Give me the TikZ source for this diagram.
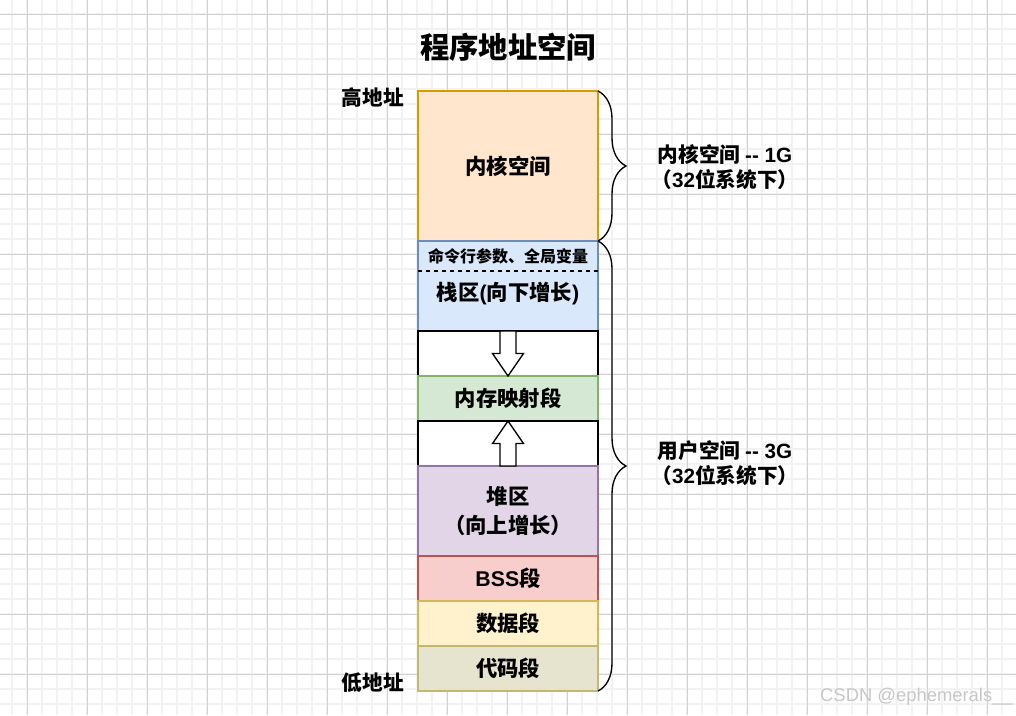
\documentclass[tikz,border=0pt]{standalone}
\usepackage{fontspec}
\setmainfont{Noto Sans CJK SC}
\newfontfamily\wmfont{Liberation Sans}
\newfontfamily\latfont{Liberation Sans}[BoldFont={Liberation Sans Bold}]
\usepackage{xcolor}
\usepackage{tikz}
\usetikzlibrary{positioning,calc,decorations.pathreplacing}
\definecolor{kernFill}{HTML}{FFE6CC}
\definecolor{kernLine}{HTML}{D79B00}
\definecolor{stackFill}{HTML}{DAE8FC}
\definecolor{stackLine}{HTML}{6C8EBF}
\definecolor{mmapFill}{HTML}{D5E8D4}
\definecolor{mmapLine}{HTML}{82B366}
\definecolor{heapFill}{HTML}{E1D5E7}
\definecolor{heapLine}{HTML}{9673A6}
\definecolor{bssFill}{HTML}{F8CECC}
\definecolor{bssLine}{HTML}{B85450}
\definecolor{dataFill}{HTML}{FFF2CC}
\definecolor{dataLine}{HTML}{D6B656}
\definecolor{codeFill}{HTML}{E6E4CF}
\definecolor{codeLine}{HTML}{C4B86E}
\newcommand{\lat}[1]{{\latfont\bfseries #1}}
\tikzset{
  Seg/.style={draw, line width=1pt, minimum width=135pt, inner sep=0pt,
              outer sep=0pt, align=center,
              font=\bfseries\fontsize{16}{20}\selectfont},
  Gap/.style={Seg, fill=white, draw=black, minimum height=33.75pt},
  Blk/.style={draw, line width=1pt, fill=white, line join=miter},
  Brace/.style={decorate, line width=1pt,
                decoration={brace, amplitude=21pt}},
  Side/.style={align=center, inner sep=0pt,
               font=\bfseries\fontsize{15.5}{18.5}\selectfont},
  Addr/.style={anchor=east, inner sep=0pt,
               font=\bfseries\fontsize{15.5}{18}\selectfont},
  Ttl/.style={inner sep=0pt, font=\bfseries\fontsize{22}{26}\selectfont},
  Wm/.style={anchor=east, inner sep=0pt, text=black!22,
             font=\wmfont\fontsize{13.8}{16}\selectfont}
}

\begin{document}
\begin{tikzpicture}[x=0.75pt, y=-0.75pt]
  \useasboundingbox (0,0) rectangle (1016,715);
  \fill[white] (0,0) rectangle (1016,715);
  % grid
  \foreach \gx in {12,27,...,1002} \draw[black!5, line width=1.2pt] (\gx,0) -- (\gx,715);
  \foreach \gy in {14,29,...,704} \draw[black!5, line width=1.2pt] (0,\gy) -- (1016,\gy);
  \foreach \gx in {27,87,...,987} \draw[black!18, line width=0.75pt] (\gx,0) -- (\gx,715);
  \foreach \gy in {14,74,...,674} \draw[black!18, line width=0.75pt] (0,\gy) -- (1016,\gy);

  \node[Ttl] (title) at (508,47) {程序地址空间};

  % memory column
  \node[Seg, fill=kernFill, draw=kernLine, minimum height=112.5pt, anchor=north] (kern) at (508,91) {内核空间};
  \node[Seg, fill=stackFill, draw=stackLine, minimum height=67.5pt, below=0pt of kern] (stack) {};
  \node[Gap, below=0pt of stack] (gapA) {};
  \node[Seg, fill=mmapFill, draw=mmapLine, minimum height=33.75pt, below=0pt of gapA] (mmap) {内存映射段};
  \node[Gap, below=0pt of mmap] (gapB) {};
  \node[Seg, fill=heapFill, draw=heapLine, minimum height=67.5pt, below=0pt of gapB] (heap) {堆区\\[1.5pt]（向上增长）};
  \node[Seg, fill=bssFill, draw=bssLine, minimum height=33.75pt, below=0pt of heap] (bss) {\lat{BSS}段};
  \node[Seg, fill=dataFill, draw=dataLine, minimum height=33.75pt, below=0pt of bss] (data) {数据段};
  \node[Seg, fill=codeFill, draw=codeLine, minimum height=33.75pt, below=0pt of data] (code) {代码段};

  % stack contents
  \node[inner sep=0pt, font=\bfseries\fontsize{12}{14}\selectfont] (args) at ($(stack.north)+(0,15)$) {命令行参数、全局变量};
  \draw[dashed, line width=1pt] ($(stack.north west)+(0,30)$) -- ($(stack.north east)+(0,30)$);
  \node[inner sep=0pt, font=\bfseries\fontsize{16}{20}\selectfont] (stackTxt) at ($(stack.north)+(0,53)$) {栈区\lat{(}向下增长\lat{)}};

  % growth arrows
  \draw[Blk, shift={(gapA.center)}] (-8,-22.5) -- (8,-22.5) -- (8,0) -- (15.5,0) -- (0,22.5) -- (-15.5,0) -- (-8,0) -- cycle;
  \draw[Blk, shift={(gapB.center)}] (-8,22.5) -- (8,22.5) -- (8,0) -- (15.5,0) -- (0,-22.5) -- (-15.5,0) -- (-8,0) -- cycle;

  % braces
  \draw[Brace] (kern.north east) -- (kern.south east);
  \draw[Brace] (stack.north east) -- (code.south east);
  \node[Side] (kernLbl) at (725,167) {内核空间 \lat{-{}- 1G}\\（\lat{32}位系统下）};
  \node[Side] (userLbl) at (725,463) {用户空间 \lat{-{}- 3G}\\（\lat{32}位系统下）};

  % address labels
  \node[Addr] (hiAddr) at (404,98) {高地址};
  \node[Addr] (loAddr) at (404,683) {低地址};

  \node[Wm] (wm) at (1013,697) {CSDN @ephemerals\_\_};
\end{tikzpicture}
\end{document}
